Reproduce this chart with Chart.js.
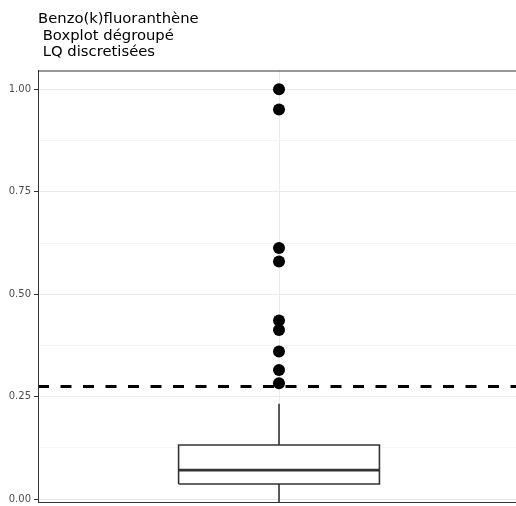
<html>
  <head>
    <meta charset="utf-8">
    <script src="https://cdn.jsdelivr.net/npm/chart.js@4/dist/chart.umd.min.js"></script>
    <style>
      body { margin: 0; background: #fff; overflow: hidden; }
    </style>
  </head>
  <body>
    <canvas id="boxChart" width="516" height="506"></canvas>
    <script>
      // titre sur trois lignes
      const titleLines = ['Benzo(k)fluoranthène', ' Boxplot dégroupé', ' LQ discretisées'];

      // graduations de l'axe y
      const yMajor = [0, 0.25, 0.5, 0.75, 1.0];
      const yMinor = [0.125, 0.375, 0.625, 0.875];

      // boxplot (une seule catégorie, x = 1)
      const boxX = 1;
      const boxHalfWidth = 0.25;
      const q1 = 0.037;
      const median = 0.071;
      const q3 = 0.132;
      const whiskerLow = -0.03;
      const whiskerHigh = 0.233;

      // valeurs atypiques
      const outliers = [1.0, 0.951, 0.613, 0.58, 0.436, 0.413, 0.36, 0.315, 0.283];

      // seuil (ligne pointillée)
      const threshold = 0.275;

      const xMin = 0.4, xMax = 1.59;
      const yMin = -0.007, yMax = 1.046;

      const boxLeft = boxX - boxHalfWidth, boxRight = boxX + boxHalfWidth;

      const panelBorder = {
        id: 'panelBorder',
        afterDraw(chart) {
          const a = chart.chartArea, ctx = chart.ctx;
          ctx.save();
          ctx.strokeStyle = '#333333';
          ctx.lineWidth = 1;
          ctx.strokeRect(a.left + 0.5, a.top + 0.5, a.right - a.left + 10, a.bottom - a.top);
          ctx.restore();
        }
      };

      window.onload = function() {
        const ctx = document.getElementById('boxChart');
        window.myChart = new Chart(ctx, {
          type: 'scatter',
          data: {
            datasets: [
              {
                label: 'seuil',
                data: [{x: xMin, y: threshold}, {x: xMax, y: threshold}],
                showLine: true,
                borderColor: '#000000',
                borderWidth: 3,
                borderDash: [11, 11.5],
                pointRadius: 0,
                order: 2
              },
              {
                label: 'boite',
                data: [
                  {x: boxLeft, y: q1}, {x: boxRight, y: q1},
                  {x: boxRight, y: q3}, {x: boxLeft, y: q3},
                  {x: boxLeft, y: q1}
                ],
                showLine: true,
                fill: 'shape',
                backgroundColor: '#ffffff',
                borderColor: '#333333',
                borderWidth: 1.6,
                pointRadius: 0,
                order: 4
              },
              {
                label: 'mediane',
                data: [{x: boxLeft, y: median}, {x: boxRight, y: median}],
                showLine: true,
                borderColor: '#333333',
                borderWidth: 2.8,
                pointRadius: 0,
                order: 3
              },
              {
                label: 'moustache haute',
                data: [{x: boxX, y: q3}, {x: boxX, y: whiskerHigh}],
                showLine: true,
                borderColor: '#333333',
                borderWidth: 1.6,
                pointRadius: 0,
                order: 3
              },
              {
                label: 'moustache basse',
                data: [{x: boxX, y: q1}, {x: boxX, y: whiskerLow}],
                showLine: true,
                borderColor: '#333333',
                borderWidth: 1.6,
                pointRadius: 0,
                order: 3
              },
              {
                label: 'atypiques',
                data: outliers.map(v => ({x: boxX, y: v})),
                showLine: false,
                backgroundColor: '#000000',
                borderColor: '#000000',
                borderWidth: 0,
                pointRadius: 6,
                order: 1
              }
            ]
          },
          options: {
            responsive: false,
            animation: false,
            layout: { autoPadding: false, padding: { left: 0, right: 0, top: 0, bottom: 4 } },
            plugins: {
              legend: { display: false },
              tooltip: { enabled: false },
              title: {
                display: true,
                text: titleLines,
                align: 'start',
                fullSize: false,
                color: '#000000',
                font: { family: 'DejaVu Sans, sans-serif', size: 14.8, weight: 'normal', lineHeight: 1.115 },
                padding: { top: 11, bottom: 10 }
              }
            },
            scales: {
              x: {
                type: 'linear',
                min: xMin,
                max: xMax,
                afterBuildTicks: function(scale) {
                  scale.ticks = [{value: boxX}];
                },
                afterFit: function(scale) {
                  scale.height = 0;
                  scale.paddingLeft = 0;
                  scale.paddingRight = 0;
                },
                ticks: { display: false },
                border: { display: false },
                grid: { color: '#ebebeb', lineWidth: 1, drawTicks: false }
              },
              y: {
                type: 'linear',
                min: yMin,
                max: yMax,
                afterBuildTicks: function(scale) {
                  scale.ticks = yMajor.concat(yMinor).sort((a, b) => a - b).map(v => ({value: v}));
                },
                afterFit: function(scale) {
                  scale.width = 38;
                  scale.paddingTop = 0;
                  scale.paddingBottom = 0;
                },
                ticks: {
                  color: '#4d4d4d',
                  font: { family: 'DejaVu Sans, sans-serif', size: 10 },
                  padding: 3,
                  callback: function(value) {
                    return yMajor.includes(value) ? value.toFixed(2) : '';
                  }
                },
                border: { display: true, color: '#333333', width: 1 },
                grid: {
                  color: function(c) { return yMajor.includes(c.tick.value) ? '#ebebeb' : '#f4f4f4'; },
                  lineWidth: 1,
                  tickLength: 4,
                  tickColor: function(c) { return yMajor.includes(c.tick.value) ? '#333333' : 'rgba(0,0,0,0)'; }
                }
              }
            }
          },
          plugins: [panelBorder]
        });
      };
    </script>
  </body>
</html>
